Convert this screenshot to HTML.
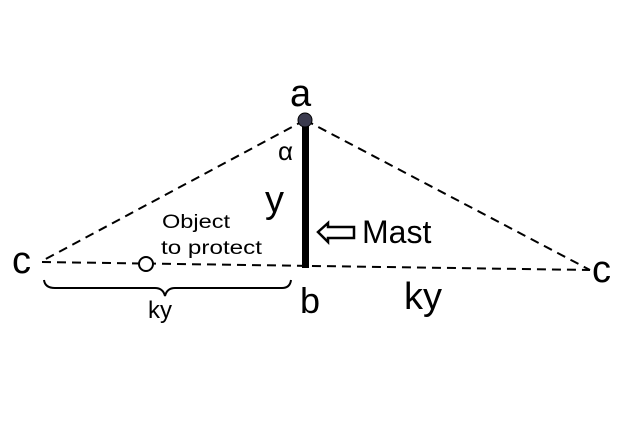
<!DOCTYPE html>
<html><head><style>body{margin:0;background:#fff}svg{display:block}</style></head><body>
<svg width="630" height="440" viewBox="0 0 630 440" xmlns="http://www.w3.org/2000/svg" font-family="Liberation Sans, sans-serif">
<rect width="630" height="440" fill="#fff"/>
<g stroke="#000" stroke-width="2" stroke-dasharray="9,6" fill="none">
<line x1="305" y1="120" x2="42" y2="261"/>
<line x1="305" y1="120" x2="590" y2="270"/>
<line x1="42" y1="262" x2="590" y2="270"/>
</g>
<rect x="302" y="122" width="7" height="146" fill="#000"/>
<circle cx="305" cy="120" r="7" fill="#3a3a4e" stroke="#000" stroke-width="1"/>
<circle cx="146" cy="264" r="7" fill="#fff" stroke="#000" stroke-width="2"/>
<path d="M44 280 Q45 288 55 288 L155 288 Q163 288 165 296 Q167 288 175 288 L282 288 Q290 288 291 280" stroke="#000" stroke-width="2" fill="none"/>
<path d="M318 232 L328 223 L328 227 L354 227 L354 238 L328 238 L328 242 Z" fill="#fff" stroke="#000" stroke-width="2.5"/>
<g fill="#000">
<text x="290" y="106" font-size="38">a</text>
<text x="278" y="160" font-size="26">α</text>
<text x="265" y="212" font-size="38">y</text>
<text x="362" y="243" font-size="32">Mast</text>
<text x="162" y="228" font-size="19" textLength="68" lengthAdjust="spacingAndGlyphs">Object</text>
<text x="161" y="254" font-size="19" textLength="101" lengthAdjust="spacingAndGlyphs">to protect</text>
<text x="12" y="273" font-size="38">c</text>
<text x="592" y="282" font-size="38">c</text>
<text x="300" y="313" font-size="36">b</text>
<text x="404" y="309" font-size="38">ky</text>
<text x="148" y="318" font-size="24">ky</text>
</g>
</svg>
</body></html>
